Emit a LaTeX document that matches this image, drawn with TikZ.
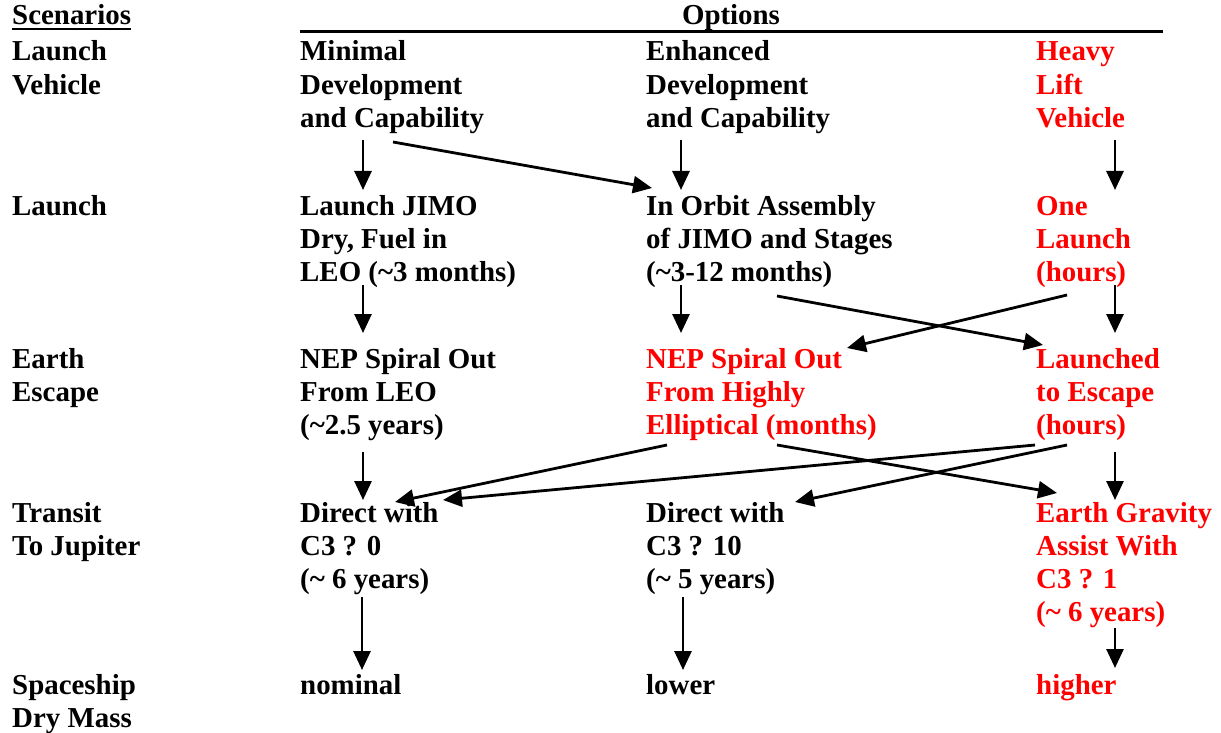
\documentclass[tikz,border=0pt]{standalone}
\usepackage{fontspec}
\setmainfont{Liberation Serif}
\usetikzlibrary{arrows.meta}
\definecolor{optred}{RGB}{255,0,0}
\tikzset{
  lbl/.style={anchor=base west, inner sep=0pt, align=left,
    font=\bfseries\fontsize{28.9}{33.3}\selectfont, text=black},
  redlbl/.style={lbl, text=optred},
  flow/.style={line width=2.8pt, -{Triangle[length=19pt,width=17pt]}},
}
\begin{document}
\begin{tikzpicture}[x=1pt,y=-1pt]
\useasboundingbox (0,0) rectangle (1221,733);
% header
\node[lbl] (scen) at (12,25) {Scenarios};
\draw[line width=2pt] ([yshift=-4.5pt]scen.base west) -- ([yshift=-4.5pt]scen.base east);
\node[lbl, anchor=base] (opts) at (731,25) {Options};
\coordinate (optL) at (300,32);
\coordinate (optR) at (1163,32);
\draw[line width=3pt] (optL) -- (optR);
% scenario labels (anchor = baseline of last line)
\node[lbl] (s1) at (12,94.3) {Launch\\Vehicle};
\node[lbl] (s2) at (12,215) {Launch};
\node[lbl] (s3) at (12,401.3) {Earth\\Escape};
\node[lbl] (s4) at (12,555.3) {Transit\\To Jupiter};
\node[lbl] (s5) at (12,727.3) {Spaceship\\Dry Mass};
% column 2
\node[lbl] (a1) at (300,127.6) {Minimal\\Development\\and Capability};
\node[lbl] (a2) at (300,281.6) {Launch JIMO\\Dry, Fuel in\\LEO (\textasciitilde3 months)};
\node[lbl] (a3) at (300,434.6) {NEP Spiral Out\\From LEO\\(\textasciitilde2.5 years)};
\node[lbl] (a4) at (300,588.6) {Direct with\\C3 ? 0\\(\textasciitilde{} 6 years)};
\node[lbl] (a5) at (300,694) {nominal};
% column 3
\node[lbl] (b1) at (646,127.6) {Enhanced\\Development\\and Capability};
\node[lbl] (b2) at (646,281.6) {In Orbit Assembly\\of JIMO and Stages\\(\textasciitilde3-12 months)};
\node[redlbl] (b3) at (646,434.6) {NEP Spiral Out\\From Highly\\Elliptical (months)};
\node[lbl] (b4) at (646,588.6) {Direct with\\C3 ? 10\\(\textasciitilde{} 5 years)};
\node[lbl] (b5) at (646,694) {lower};
% column 4
\node[redlbl] (c1) at (1036,127.6) {Heavy\\Lift\\Vehicle};
\node[redlbl] (c2) at (1036,281.6) {One\\Launch\\(hours)};
\node[redlbl] (c3) at (1036,434.6) {Launched\\to Escape\\(hours)};
\node[redlbl] (c4) at (1036,621.9) {Earth Gravity\\Assist With\\C3 ? 1\\(\textasciitilde{} 6 years)};
\node[redlbl] (c5) at (1036,694) {higher};
% arrow end points
\coordinate (a1o) at (363,140); \coordinate (a2i) at (363,190);
\coordinate (b1o) at (681,140); \coordinate (b2i) at (681,190);
\coordinate (c1o) at (1115,140); \coordinate (c2i) at (1115,190);
\coordinate (a1x) at (393,142); \coordinate (b2x) at (652,188);
\coordinate (a2o) at (363,285); \coordinate (a3i) at (363,333);
\coordinate (b2o) at (681,285); \coordinate (b3i) at (681,333);
\coordinate (c2o) at (1115,285); \coordinate (c3i) at (1115,333);
\coordinate (b2x2) at (777,296); \coordinate (c3x) at (1043,345);
\coordinate (c2x) at (1067,295); \coordinate (b3x) at (847,348);
\coordinate (a3o) at (363,452); \coordinate (a4i) at (363,500);
\coordinate (c3o) at (1115,452); \coordinate (c4i) at (1115,500);
\coordinate (b3x1) at (667,445); \coordinate (a4x1) at (395,502);
\coordinate (c3x1) at (1035,445); \coordinate (a4x2) at (443,500);
\coordinate (c3x2) at (1067,445); \coordinate (b4x) at (795,502);
\coordinate (b3x2) at (777,445); \coordinate (c4x) at (1057,493);
\coordinate (a4o) at (362,597); \coordinate (a5i) at (362,670);
\coordinate (b4o) at (683,597); \coordinate (b5i) at (683,670);
\coordinate (c4o) at (1115,628); \coordinate (c5i) at (1115,668);
% arrows
\draw[flow] (a1o) -- (a2i);
\draw[flow] (b1o) -- (b2i);
\draw[flow] (c1o) -- (c2i);
\draw[flow] (a1x) -- (b2x);
\draw[flow] (a2o) -- (a3i);
\draw[flow] (b2o) -- (b3i);
\draw[flow] (c2o) -- (c3i);
\draw[flow] (b2x2) -- (c3x);
\draw[flow] (c2x) -- (b3x);
\draw[flow] (a3o) -- (a4i);
\draw[flow] (c3o) -- (c4i);
\draw[flow] (b3x1) -- (a4x1);
\draw[flow] (c3x1) -- (a4x2);
\draw[flow] (c3x2) -- (b4x);
\draw[flow] (b3x2) -- (c4x);
\draw[flow] (a4o) -- (a5i);
\draw[flow] (b4o) -- (b5i);
\draw[flow] (c4o) -- (c5i);
\end{tikzpicture}
\end{document}
